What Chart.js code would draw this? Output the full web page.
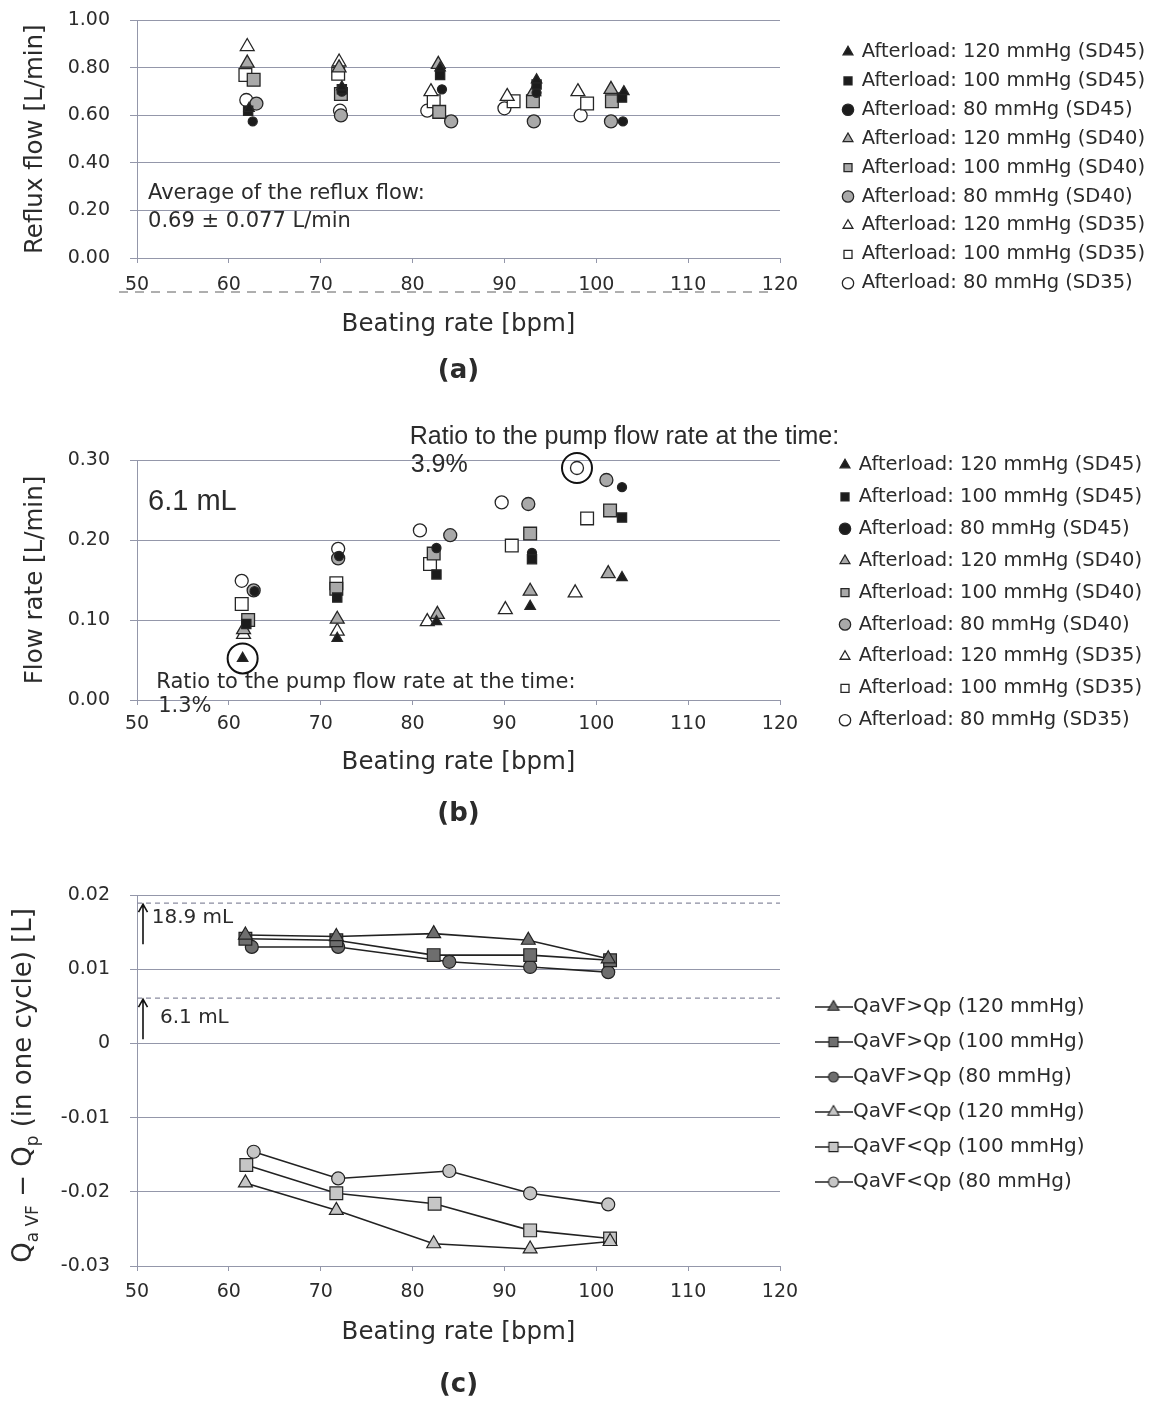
<!DOCTYPE html>
<html>
<head>
<meta charset="utf-8">
<script src="https://cdn.jsdelivr.net/npm/chart.js@4.4.1/dist/chart.umd.min.js"></script>
<style>
  body { margin: 0; background: #fff; overflow: hidden; }
  .panel { position: absolute; left: 0; width: 1152px; }
</style>
</head>
<body>
<div class="panel" style="top:-11px;height:401px"><canvas id="chartA" width="1152" height="401"></canvas></div>
<div class="panel" style="top:395px;height:450px"><canvas id="chartB" width="1152" height="450"></canvas></div>
<div class="panel" style="top:860px;height:542px"><canvas id="chartC" width="1152" height="542"></canvas></div>
<script>
// series names (a) and (b)
const afterloadLabels = [
    'Afterload: 120 mmHg (SD45)', 'Afterload: 100 mmHg (SD45)', 'Afterload: 80 mmHg (SD45)',
    'Afterload: 120 mmHg (SD40)', 'Afterload: 100 mmHg (SD40)', 'Afterload: 80 mmHg (SD40)',
    'Afterload: 120 mmHg (SD35)', 'Afterload: 100 mmHg (SD35)', 'Afterload: 80 mmHg (SD35)'
]

// (a) reflux flow, one row per series: beating rate [bpm] and flow [L/min]
const refluxRate = [
    [62.2, 72.3, 83.0, 93.5, 103.0],
    [62.1, 72.3, 83.0, 93.5, 102.8],
    [62.6, 72.3, 83.2, 93.5, 102.9],
    [62.0, 72.0, 82.8, 93.2, 101.6],
    [62.7, 72.2, 82.9, 93.1, 101.7],
    [63.0, 72.2, 84.2, 93.2, 101.6],
    [62.0, 72.0, 82.0, 90.3, 98.0],
    [61.8, 71.9, 82.3, 91.0, 99.0],
    [61.9, 72.1, 81.6, 90.0, 98.3]
]
const refluxFlow = [
    [0.63, 0.72, 0.80, 0.75, 0.70],
    [0.62, 0.71, 0.77, 0.73, 0.675],
    [0.575, 0.70, 0.71, 0.695, 0.575],
    [0.82, 0.80, 0.815, 0.70, 0.71],
    [0.75, 0.69, 0.615, 0.66, 0.66],
    [0.65, 0.60, 0.575, 0.575, 0.575],
    [0.89, 0.825, 0.70, 0.68, 0.70],
    [0.77, 0.775, 0.66, 0.66, 0.65],
    [0.665, 0.62, 0.62, 0.63, 0.60]
]

// (b) flow rate [L/min]
const leakRate = [
    [61.5, 71.8, 82.6, 92.8, 102.8],
    [61.9, 71.8, 82.6, 93.0, 102.8],
    [62.8, 72.0, 82.6, 93.0, 102.8],
    [61.6, 71.8, 82.7, 92.8, 101.3],
    [62.1, 71.7, 82.3, 92.8, 101.5],
    [62.7, 71.9, 84.1, 92.6, 101.1],
    [61.6, 71.8, 81.6, 90.1, 97.7],
    [61.4, 71.7, 81.9, 90.8, 99.0],
    [61.4, 71.9, 80.8, 89.7, 97.9]
]
const leakFlow = [
    [0.052, 0.077, 0.098, 0.117, 0.153],
    [0.095, 0.128, 0.157, 0.176, 0.228],
    [0.136, 0.180, 0.190, 0.184, 0.266],
    [0.088, 0.101, 0.107, 0.136, 0.158],
    [0.100, 0.139, 0.183, 0.208, 0.237],
    [0.137, 0.177, 0.206, 0.245, 0.275],
    [0.082, 0.086, 0.098, 0.113, 0.134],
    [0.120, 0.146, 0.170, 0.193, 0.227],
    [0.149, 0.189, 0.212, 0.247, 0.290]
]
// [series, point] that are circled in (b)
const circledPoints = [[0, 0], [8, 4]]

// (c) QaVF - Qp in one cycle [L]
const cycleLabels = [
    'QaVF>Qp (120 mmHg)', 'QaVF>Qp (100 mmHg)', 'QaVF>Qp (80 mmHg)',
    'QaVF<Qp (120 mmHg)', 'QaVF<Qp (100 mmHg)', 'QaVF<Qp (80 mmHg)'
]
const cycleRate = [
    [61.8, 71.7, 82.3, 92.6, 101.3],
    [61.8, 71.7, 82.3, 92.8, 101.5],
    [62.5, 71.9, 84.0, 92.8, 101.3],
    [61.8, 71.7, 82.3, 92.8, 101.5],
    [61.9, 71.7, 82.4, 92.8, 101.5],
    [62.7, 71.9, 84.0, 92.8, 101.3]
]
const cycleVolume = [
    [0.0146, 0.0144, 0.0148, 0.0139, 0.0114],
    [0.0141, 0.0139, 0.0119, 0.0119, 0.0112],
    [0.0130, 0.0130, 0.0110, 0.0103, 0.0096],
    [-0.0188, -0.0225, -0.0270, -0.0277, -0.0267],
    [-0.0164, -0.0202, -0.0216, -0.0252, -0.0263],
    [-0.0146, -0.0182, -0.0172, -0.0202, -0.0217]
]
// reference volumes [L] drawn as dashed lines in (c)
const refVolumes = [0.0189, 0.0061]
const refLabels = ['18.9 mL', '6.1 mL']

//config style
const textColor = '#2b2b2b'
const gridColor = '#9497aa'
const markerShapes = ['triangle', 'rect', 'circle', 'triangle', 'rect', 'circle', 'triangle', 'rect', 'circle']
const markerFills = ['#1c1c1c', '#1c1c1c', '#1c1c1c', '#a9a9a9', '#a9a9a9', '#a9a9a9', '#ffffff', '#ffffff', '#ffffff']
const markerSizes = [6, 6.5, 4.5, 8, 9, 6.5, 8, 9, 6.5]
const cycleShapes = ['triangle', 'rect', 'circle', 'triangle', 'rect', 'circle']
const cycleFills = ['#6e6e6e', '#6e6e6e', '#6e6e6e', '#c6c6c6', '#c6c6c6', '#c6c6c6']
const cycleSizes = [8, 9, 6.5, 8, 9, 6.5]

Chart.defaults.font.family = "'DejaVu Sans', sans-serif"
Chart.defaults.color = textColor

// moves the legend to where the figure has it, keeps the plot 137..780 px wide
const legendPlace = {
    id: 'legendPlace',
    beforeInit(chart) {
        const legend = chart.legend
        const fit = legend.fit
        legend.fit = function () {
            fit.call(this)
            this.width = chart.options.plugins.legendPlace.width
        }
    },
    afterLayout(chart, args, opts) {
        const legend = chart.legend
        const dx = opts.x - opts.pad - legend.left
        const dy = opts.y - opts.size / 2 - opts.pad - legend.top
        legend.left += dx
        legend.right += dx
        legend.top += dy
        legend.bottom += dy
    }
}

// text notes placed in data units
function notesPlugin(texts, extra) {
    return {
        id: 'notes',
        afterDatasetsDraw(chart) {
            const { ctx, scales: { x, y } } = chart
            ctx.save()
            ctx.fillStyle = textColor
            ctx.textAlign = 'left'
            ctx.textBaseline = 'middle'
            texts.forEach(t => {
                ctx.font = t.font
                ctx.fillText(t.text, x.getPixelForValue(t.x), y.getPixelForValue(t.y))
            })
            ctx.restore()
            if (extra) extra(chart)
        }
    }
}

function xAxis(labelPad, titlePad) {
    return {
        type: 'linear',
        min: 50,
        max: 120,
        ticks: { stepSize: 10, padding: labelPad, font: { size: 19 } },
        grid: { drawOnChartArea: false, tickLength: 5, color: gridColor },
        border: { color: gridColor },
        title: { display: true, text: 'Beating rate [bpm]', font: { size: 24.5 }, padding: { top: titlePad, bottom: 0 } }
    }
}

function yAxis(min, max, step, title) {
    return {
        min: min,
        max: max,
        afterFit(scale) { scale.width = 137 },
        ticks: {
            stepSize: step,
            padding: 20,
            font: { size: 19 },
            callback: v => Math.abs(v) < 1e-9 && step < 0.05 ? '0' : v.toFixed(2)
        },
        grid: { color: gridColor, tickLength: 7 },
        border: { color: gridColor },
        title: title
            ? { display: true, text: title, font: { size: 24.5 }, padding: { top: 20.6, bottom: 0 } }
            : { display: false }
    }
}

function legendOpts(pad, size, box) {
    return {
        position: 'right',
        align: 'start',
        labels: {
            usePointStyle: true,
            boxWidth: box,
            boxHeight: box,
            padding: pad,
            font: { size: size },
            color: textColor
        }
    }
}

function panelTitle(text, pad) {
    return {
        display: true,
        position: 'bottom',
        fullSize: false,
        text: text,
        color: textColor,
        font: { size: 26, weight: 'bold' },
        padding: { top: pad, bottom: 0 }
    }
}

function scatterSets(rates, values) {
    return afterloadLabels.map((label, i) => ({
        label: label,
        data: rates[i].map((r, j) => ({ x: r, y: values[i][j] })),
        pointStyle: markerShapes[i],
        pointRadius: markerSizes[i],
        backgroundColor: markerFills[i],
        borderColor: '#262626',
        borderWidth: 1.3
    }))
}

//Init reflux chart (a)
function initRefluxChart() {
    const notes = notesPlugin([
        { text: 'Average of the reflux flow:', x: 51.2, y: 0.271, font: "21px 'DejaVu Sans'" },
        { text: '0.69 \u00b1 0.077 L/min', x: 51.2, y: 0.155, font: "21px 'DejaVu Sans'" }
    ], chart => {
        // dashed rule running through the tick label row
        const { ctx, chartArea } = chart
        ctx.save()
        ctx.strokeStyle = '#5f5f5f'
        ctx.lineWidth = 1
        ctx.setLineDash([9, 7])
        ctx.beginPath()
        ctx.moveTo(chartArea.left - 18, chartArea.bottom + 34)
        ctx.lineTo(chartArea.right - 8, chartArea.bottom + 34)
        ctx.stroke()
        ctx.restore()
    })
    new Chart(document.getElementById('chartA'), {
        type: 'scatter',
        data: { datasets: scatterSets(refluxRate, refluxFlow) },
        options: {
            responsive: false,
            animation: false,
            layout: { padding: { top: 31, bottom: 3.6, left: 0, right: 0 } },
            scales: { x: xAxis(10.6, 2.6), y: yAxis(0, 1, 0.2, 'Reflux flow [L/min]') },
            plugins: {
                legend: legendOpts(9.4, 19.5, 8),
                legendPlace: { width: 372, x: 844, y: 63, pad: 9.4, size: 19.5 },
                title: panelTitle('(a)', 16.2),
                tooltip: { enabled: false }
            }
        },
        plugins: [legendPlace, notes]
    })
}

//Init flow rate chart (b)
function initLeakChart() {
    const notes = notesPlugin([
        { text: 'Ratio to the pump flow rate at the time:', x: 79.7, y: 0.329, font: "25px 'Liberation Sans'" },
        { text: '3.9%', x: 79.8, y: 0.294, font: "25px 'Liberation Sans'" },
        { text: '6.1 mL', x: 51.2, y: 0.248, font: "29px 'Liberation Sans'" },
        { text: 'Ratio to the pump flow rate at the time:', x: 52.1, y: 0.0214, font: "21px 'DejaVu Sans'" },
        { text: '1.3%', x: 52.3, y: -0.0088, font: "21px 'DejaVu Sans'" }
    ], chart => {
        const ctx = chart.ctx
        ctx.save()
        ctx.strokeStyle = '#111'
        ctx.lineWidth = 2
        circledPoints.forEach(([d, i]) => {
            const pt = chart.getDatasetMeta(d).data[i]
            ctx.beginPath()
            ctx.arc(pt.x, pt.y, 15, 0, Math.PI * 2)
            ctx.stroke()
        })
        ctx.restore()
    })
    new Chart(document.getElementById('chartB'), {
        type: 'scatter',
        data: { datasets: scatterSets(leakRate, leakFlow) },
        options: {
            responsive: false,
            animation: false,
            layout: { padding: { top: 65, bottom: 15.6, left: 0, right: 0 } },
            scales: { x: xAxis(7.6, 4.6), y: yAxis(0, 0.3, 0.1, 'Flow rate [L/min]') },
            plugins: {
                legend: legendOpts(12.4, 19.5, 8),
                legendPlace: { width: 372, x: 841, y: 70, pad: 12.4, size: 19.5 },
                title: panelTitle('(b)', 21.2),
                tooltip: { enabled: false }
            }
        },
        plugins: [legendPlace, notes]
    })
}

// small line + marker picture for the (c) legend
function lineIcon(i) {
    const c = document.createElement('canvas')
    c.width = 38
    c.height = 18
    const g = c.getContext('2d')
    g.strokeStyle = '#222'
    g.lineWidth = 1.5
    g.beginPath()
    g.moveTo(0, 9)
    g.lineTo(38, 9)
    g.stroke()
    g.fillStyle = cycleFills[i]
    g.lineWidth = 1.1
    Chart.helpers.drawPoint(g, { pointStyle: cycleShapes[i], radius: cycleShapes[i] === 'circle' ? 5 : 6.5, borderWidth: 1.1 }, 19, 9)
    return c
}

//Init cycle volume chart (c)
function initCycleChart() {
    const icons = cycleLabels.map((l, i) => lineIcon(i))
    const datasets = cycleLabels.map((label, i) => ({
        label: label,
        data: cycleRate[i].map((r, j) => ({ x: r, y: cycleVolume[i][j] })),
        showLine: true,
        borderColor: '#222',
        borderWidth: 1.6,
        backgroundColor: cycleFills[i],
        pointStyle: cycleShapes[i],
        pointRadius: cycleSizes[i],
        pointBackgroundColor: cycleFills[i],
        pointBorderColor: '#222',
        pointBorderWidth: 1.2
    }))
    const refLines = {
        id: 'refLines',
        beforeDatasetsDraw(chart) {
            const { ctx, chartArea, scales: { y } } = chart
            ctx.save()
            ctx.strokeStyle = '#8a8ca0'
            ctx.lineWidth = 1.2
            ctx.setLineDash([5, 4])
            refVolumes.forEach(v => {
                const py = y.getPixelForValue(v)
                ctx.beginPath()
                ctx.moveTo(chartArea.left, py)
                ctx.lineTo(chartArea.right, py)
                ctx.stroke()
            })
            ctx.restore()
        }
    }
    const notes = notesPlugin([
        { text: refLabels[0], x: 51.6, y: 0.01695, font: "20px 'DejaVu Sans'" },
        { text: refLabels[1], x: 52.5, y: 0.0035, font: "20px 'DejaVu Sans'" }
    ], chart => {
        const { ctx, chartArea, scales: { y } } = chart
        ctx.save()
        ctx.strokeStyle = '#111'
        ctx.fillStyle = '#111'
        ctx.lineWidth = 1.6
        // arrows up to the dashed reference lines
        refVolumes.forEach(v => {
            const ax = chartArea.left + 6
            const tip = y.getPixelForValue(v) + 1
            ctx.beginPath()
            ctx.moveTo(ax, tip + 40)
            ctx.lineTo(ax, tip)
            ctx.moveTo(ax - 4.5, tip + 8)
            ctx.lineTo(ax, tip)
            ctx.lineTo(ax + 4.5, tip + 8)
            ctx.stroke()
        })
        // y title with subscripts
        const parts = [['Q', 26, 0], ['a VF', 17, 7], [' \u2212 Q', 26, 0], ['p', 17, 7], [' (in one cycle) [L]', 26, 0]]
        ctx.fillStyle = textColor
        ctx.textAlign = 'left'
        ctx.textBaseline = 'alphabetic'
        ctx.translate(31, (chartArea.top + chartArea.bottom) / 2 + 5)
        ctx.rotate(-Math.PI / 2)
        let total = 0
        parts.forEach(p => {
            ctx.font = p[1] + "px 'DejaVu Sans'"
            total += ctx.measureText(p[0]).width
        })
        let pos = -total / 2
        parts.forEach(p => {
            ctx.font = p[1] + "px 'DejaVu Sans'"
            ctx.fillText(p[0], pos, p[2])
            pos += ctx.measureText(p[0]).width
        })
        ctx.restore()
    })
    new Chart(document.getElementById('chartC'), {
        type: 'scatter',
        data: { datasets: datasets },
        options: {
            responsive: false,
            animation: false,
            layout: { padding: { top: 35, bottom: 1.6, left: 0, right: 0 } },
            scales: { x: xAxis(9.6, 4.6), y: yAxis(-0.03, 0.02, 0.01, null) },
            plugins: {
                legend: {
                    position: 'right',
                    align: 'start',
                    labels: {
                        usePointStyle: true,
                        boxWidth: 19,
                        padding: 15,
                        font: { size: 20 },
                        color: textColor,
                        generateLabels(chart) {
                            const items = Chart.defaults.plugins.legend.labels.generateLabels(chart)
                            items.forEach((it, i) => { it.pointStyle = icons[i] })
                            return items
                        }
                    }
                },
                legendPlace: { width: 372, x: 824, y: 147, pad: 15, size: 20 },
                title: panelTitle('(c)', 22.2),
                tooltip: { enabled: false }
            }
        },
        plugins: [legendPlace, refLines, notes]
    })
}

initRefluxChart()
initLeakChart()
initCycleChart()
</script>
</body>
</html>
